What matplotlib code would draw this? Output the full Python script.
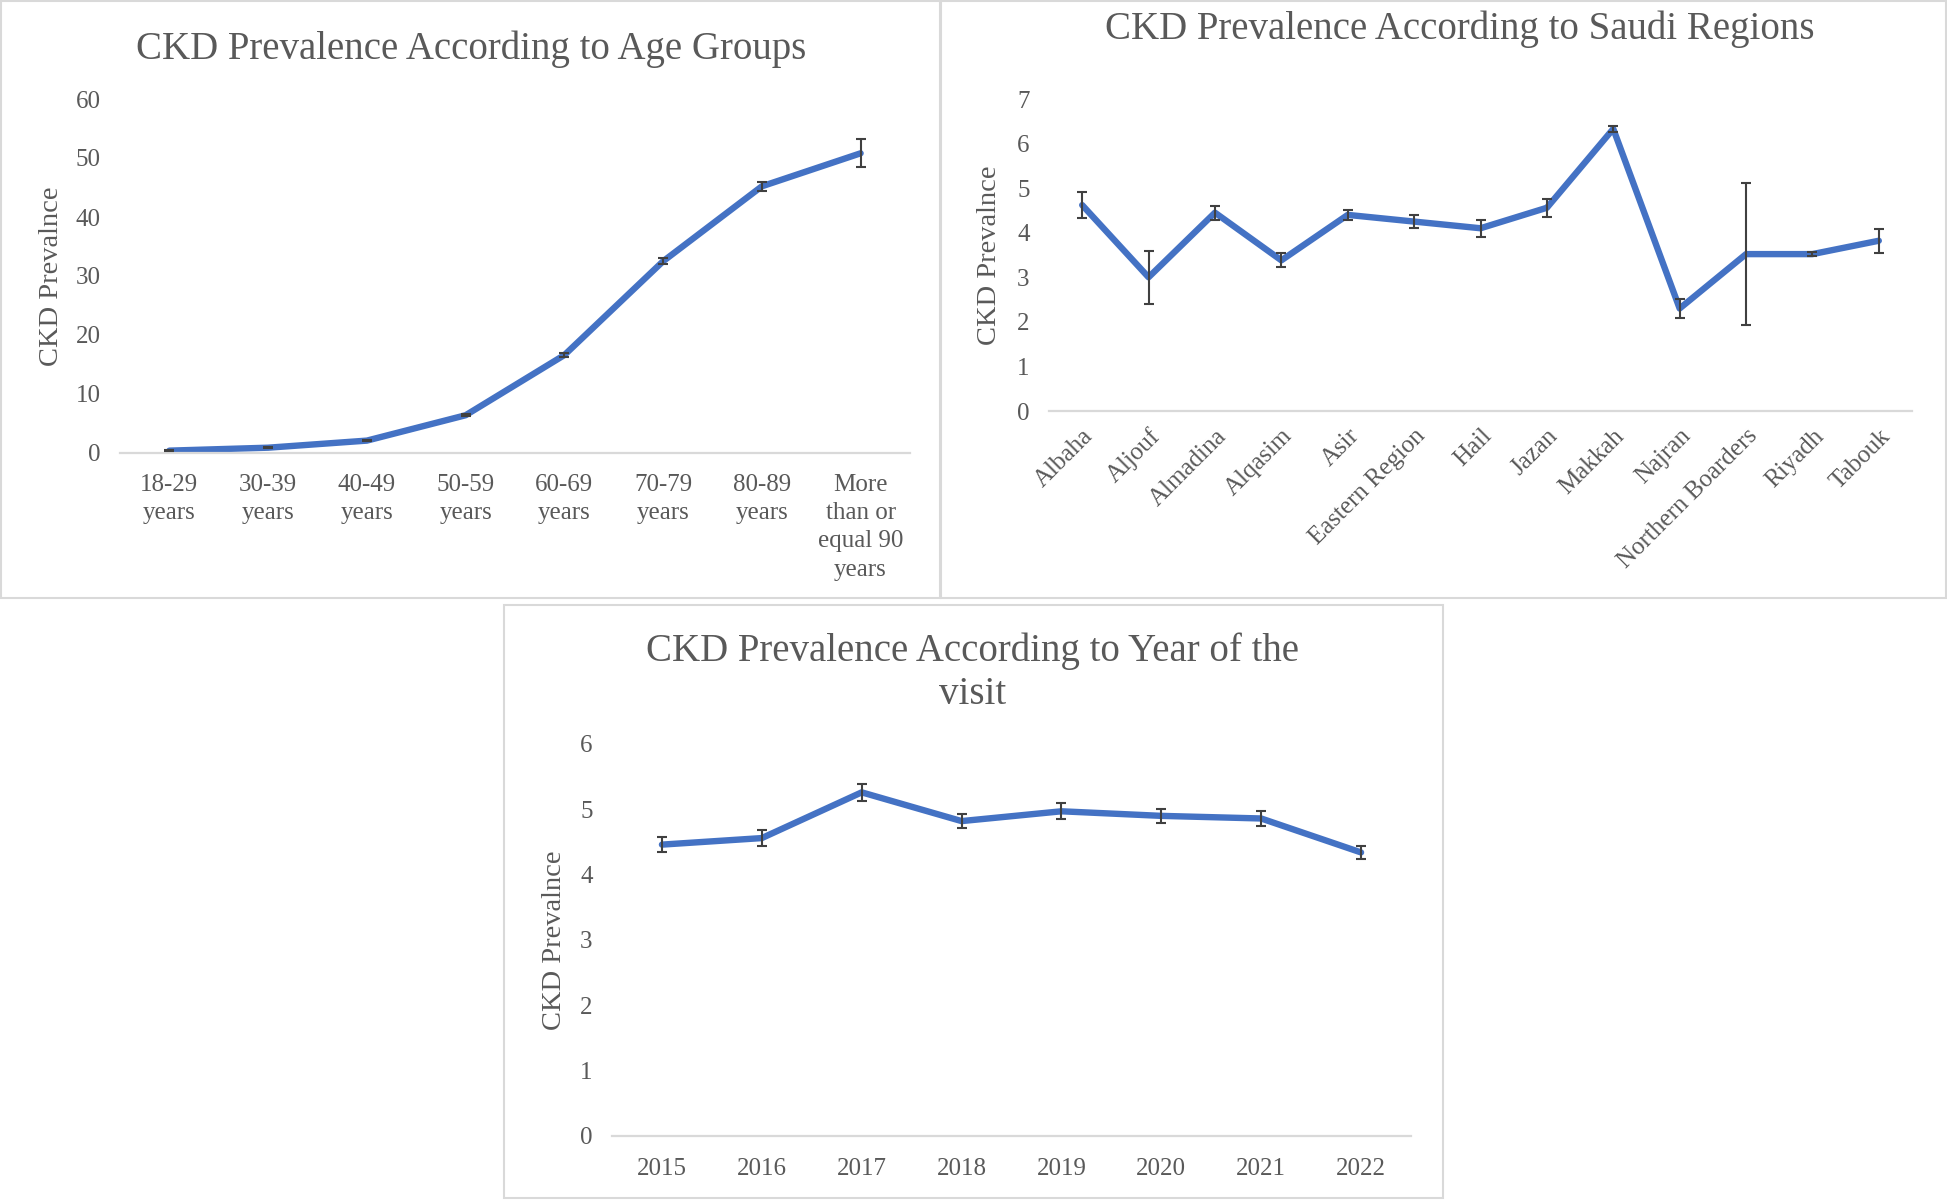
import matplotlib
matplotlib.use("Agg")
import matplotlib.pyplot as plt
from matplotlib.patches import Rectangle

plt.rcParams['font.family'] = ['Liberation Serif', 'DejaVu Serif']

age_groups = ["18-29\nyears", "30-39\nyears", "40-49\nyears", "50-59\nyears",
              "60-69\nyears", "70-79\nyears", "80-89\nyears", "More\nthan or\nequal 90\nyears"]
age_values = [0.4, 0.9, 2.1, 6.4, 16.6, 32.5, 45.2, 50.8]
age_err = [0.1, 0.1, 0.15, 0.2, 0.4, 0.5, 0.8, 2.4]

regions = ["Albaha", "Aljouf", "Almadina", "Alqasim", "Asir", "Eastern Region", "Hail",
           "Jazan", "Makkah", "Najran", "Northern Boarders", "Riyadh", "Tabouk"]
region_values = [4.62, 3.0, 4.45, 3.38, 4.4, 4.25, 4.1, 4.56, 6.33, 2.3, 3.52, 3.52, 3.82]
region_err = [0.29, 0.6, 0.16, 0.16, 0.12, 0.15, 0.19, 0.2, 0.06, 0.22, 1.6, 0.04, 0.27]

years = ["2015", "2016", "2017", "2018", "2019", "2020", "2021", "2022"]
year_values = [4.46, 4.56, 5.26, 4.82, 4.97, 4.9, 4.86, 4.34]
year_err = [0.12, 0.12, 0.13, 0.11, 0.12, 0.11, 0.12, 0.1]

W, H = 1947, 1200
fig = plt.figure(figsize=(W / 100, H / 100), dpi=100)

LINE = '#4472C4'
TXT = '#595959'
GRID = '#D9D9D9'
ERR = '#404040'

def frac_rect(x0, y0, x1, y1):
    # pixel box (top-left origin) to figure fraction
    return [x0 / W, 1 - y1 / H, (x1 - x0) / W, (y1 - y0) / H]

# panel borders
for (x0, y0, x1, y1) in [(1, 1, 940, 598), (941, 1, 1946, 598), (504, 605, 1443, 1198)]:
    fig.patches.append(Rectangle((x0 / W, 1 - y1 / H), (x1 - x0) / W, (y1 - y0) / H,
                                 transform=fig.transFigure, fill=False,
                                 edgecolor=GRID, linewidth=1.5))

def style(ax, ymax, ystep):
    ax.set_ylim(0, ymax)
    ax.set_yticks(range(0, ymax + 1, ystep))
    for s in ['top', 'right', 'left']:
        ax.spines[s].set_visible(False)
    ax.spines['bottom'].set_color(GRID)
    ax.spines['bottom'].set_linewidth(1.6)
    ax.tick_params(axis='both', length=0, labelsize=18, labelcolor=TXT)
    ax.tick_params(axis='y', pad=14)
    ax.set_ylabel("CKD Prevalnce", fontsize=20.5, color=TXT)

def draw(ax, labels, vals, errs):
    x = list(range(len(labels)))
    ax.plot(x, vals, color=LINE, linewidth=4.6, solid_capstyle='round',
            solid_joinstyle='round', zorder=2)
    ax.errorbar(x, vals, yerr=errs, fmt='none', ecolor=ERR, elinewidth=1.5,
                capsize=3.8, capthick=1.5, zorder=3)
    ax.set_xlim(-0.5, len(labels) - 0.5)
    ax.set_xticks(x)

# Panel 1: age groups
ax1 = fig.add_axes(frac_rect(120, 99, 910, 453))
draw(ax1, age_groups, age_values, age_err)
style(ax1, 60, 10)
ax1.set_xticklabels(age_groups, linespacing=1.37)
ax1.tick_params(axis='x', pad=15)
ax1.yaxis.set_label_coords(-0.071, 0.5)
fig.text(471 / W, 1 - 49 / H, "CKD Prevalence According to Age Groups",
         ha='center', va='center', fontsize=28, color=TXT)

# Panel 2: regions
ax2 = fig.add_axes(frac_rect(1049, 99, 1912, 411))
draw(ax2, regions, region_values, region_err)
style(ax2, 7, 1)
ax2.set_xticklabels(regions, rotation=45, ha='right', rotation_mode='anchor')
ax2.tick_params(axis='x', pad=10)
ax2.yaxis.set_label_coords(-0.054, 0.5)
fig.text(1460 / W, 1 - 29 / H, "CKD Prevalence According to Saudi Regions",
         ha='center', va='center', fontsize=28, color=TXT)

# Panel 3: years
ax3 = fig.add_axes(frac_rect(612, 744, 1411, 1136))
draw(ax3, years, year_values, year_err)
style(ax3, 6, 1)
ax3.set_xticklabels(years)
ax3.tick_params(axis='x', pad=16)
ax3.yaxis.set_label_coords(-0.056, 0.5)
fig.text(973 / W, 1 - 673 / H, "CKD Prevalence According to Year of the\nvisit",
         ha='center', va='center', fontsize=28, color=TXT, linespacing=1.2)

fig.savefig("out.png", dpi=100, facecolor='white')
